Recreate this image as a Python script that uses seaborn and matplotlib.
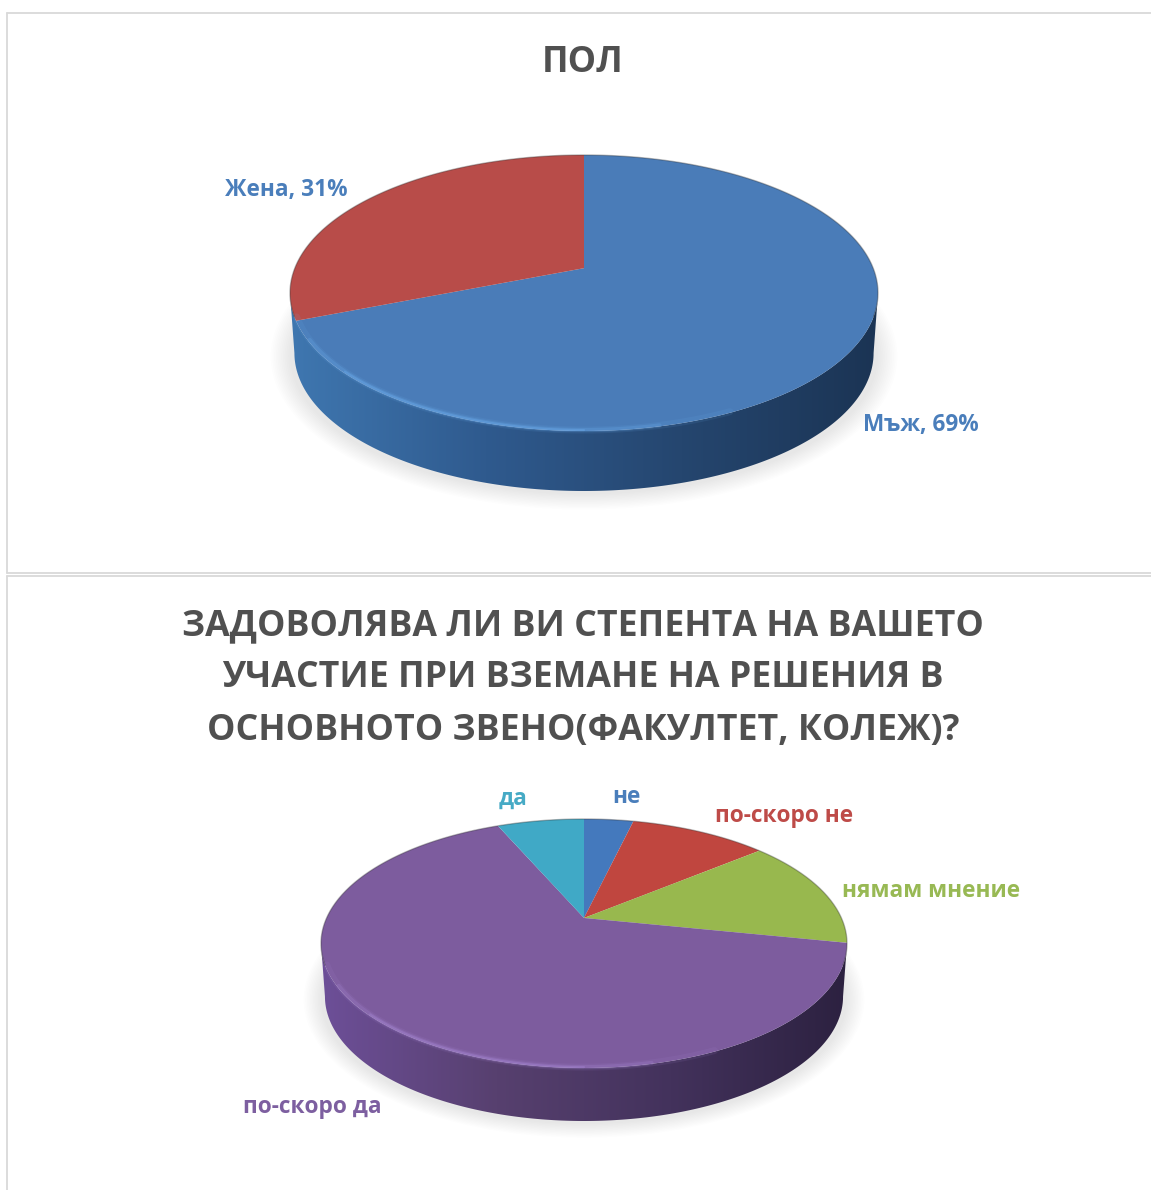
import numpy as np
import matplotlib
matplotlib.use("Agg")
import matplotlib.pyplot as plt
from matplotlib.patches import Ellipse, Polygon
from matplotlib.lines import Line2D
import seaborn as sns

sns.set_theme(style="white")
plt.rcParams["font.family"] = ["Open Sans", "DejaVu Sans"]

W, H = 1151, 1190

# data
gender_labels = ["Мъж", "Жена"]
gender_values = [69, 31]
gender_colors = ["#4a7cb8", "#b84c49"]

opinion_labels = ["не", "по-скоро не", "нямам мнение", "по-скоро да", "да"]
opinion_values = [3.7, 10.3, 14.2, 65.3, 6.5]
opinion_colors = ["#4479bd", "#c0463f", "#98b84e", "#7d5c9e", "#40a9c6"]

title_gender = "ПОЛ"
title_opinion = ["ЗАДОВОЛЯВА ЛИ ВИ СТЕПЕНТА НА ВАШЕТО",
                 "УЧАСТИЕ ПРИ ВЗЕМАНЕ НА РЕШЕНИЯ В",
                 "ОСНОВНОТО ЗВЕНО(ФАКУЛТЕТ, КОЛЕЖ)?"]

TITLE_COLOR = "#505050"
BORDER = "#d9d9d9"


def warp(x, y, a):
    # perspective tilt: keeps the unit circle, moves the pie centre up to (0, a)
    den = 1 + a * y
    return x * np.sqrt(1 - a ** 2) / den, (y + a) / den


def draw_pie(values, colors, cx, cy, rx, ry, a, depth, wall_colors, rim_color, startangle=90):
    d = depth / ry
    ax = fig.add_axes([(cx - 1.15 * rx) / W, 1 - (cy + 1.25 * ry + depth) / H,
                       2.3 * rx / W, (2.3 * ry + depth) / H])
    wedges, _ = ax.pie(values, colors=colors, startangle=startangle, counterclock=False)
    ax.set_aspect("auto")
    ax.axis("off")

    # soft shadow on the page
    for k in range(12):
        ax.add_patch(Ellipse((0, -d - 0.025), 2.0 + 0.012 * k, 2.0 + 0.02 * k,
                             fc="black", ec="none", alpha=0.008, zorder=0.5))

    # side wall with a horizontal gradient
    t = np.radians(np.linspace(180, 360, 200))
    low = np.column_stack([0.985 * np.cos(t), np.sin(t) - d])
    up = np.column_stack([np.cos(t), np.sin(t)])[::-1]
    wall = Polygon(np.vstack([low, up]), transform=ax.transData, fc="none", ec="none")
    ax.add_patch(wall)
    cmap = sns.blend_palette(wall_colors, as_cmap=True)
    im = ax.imshow(np.linspace(0, 1, 256)[None, :], extent=(-1, 1, -1 - d, 0.2),
                   cmap=cmap, aspect="auto", zorder=1)
    im.set_clip_path(wall)
    ax.set_xlim(-1.15, 1.15)
    ax.set_ylim(-1.25 - d, 1.05)

    # top face, from the wedges the pie call computed
    for w in wedges:
        w.set_visible(False)
        th = np.radians(np.linspace(w.theta1, w.theta2, 200))
        xs, ys = warp(np.cos(th), np.sin(th), a)
        ax.add_patch(Polygon(np.column_stack([np.r_[0, xs], np.r_[a, ys]]),
                             fc=w.get_facecolor(), ec="none", zorder=2))

    # bevel: light along the front-left rim, dark along the back rim
    for lo, hi, lw, al in [(190, 300, 5, 0.10), (200, 285, 3, 0.22), (215, 270, 1.5, 0.35)]:
        th = np.radians(np.linspace(lo, hi, 120))
        ax.plot(0.993 * np.cos(th), 0.993 * np.sin(th), color=rim_color, lw=lw, alpha=al,
                solid_capstyle="round", zorder=3)
    th = np.radians(np.linspace(-10, 190, 200))
    ax.plot(np.cos(th), np.sin(th), color="#303030", lw=1.0, alpha=0.35, zorder=3)
    return ax


fig = plt.figure(figsize=(W / 100, H / 100), dpi=100, facecolor="white")

# chart borders
for xs, ys in [((7, 7), (13, 573)), ((7, 1151), (13, 13)), ((7, 1151), (573, 573)),
               ((7, 1151), (576, 576)), ((7, 7), (576, 1190))]:
    fig.add_artist(Line2D([x / W for x in xs], [1 - y / H for y in ys], color=BORDER, lw=1.3))

draw_pie(gender_values, gender_colors, 584, 293, 294, 138, 0.18, 60,
         ["#3f77b0", "#2f5a8e", "#25466f", "#1b3454"], "#6fb0f0")
draw_pie(opinion_values, opinion_colors, 584, 943.5, 263, 124.5, 0.205, 53,
         ["#6d4f98", "#57406f", "#43325c", "#2c2140"], "#a98ad8")

fig.text(583 / W, 1 - 63 / H, title_gender, ha="center", va="center", fontsize=25.7,
         fontweight="bold", color=TITLE_COLOR)
for line, y in zip(title_opinion, [626, 678, 731]):
    fig.text(583 / W, 1 - y / H, line, ha="center", va="center", fontsize=25.7,
             fontweight="bold", color=TITLE_COLOR)

label_font = dict(fontsize=16.3, fontweight="bold", ha="center", va="center")
fig.text(286 / W, 1 - 190 / H, f"{gender_labels[1]}, {gender_values[1]}%", color="#4a7ebb", **label_font)
fig.text(921 / W, 1 - 425 / H, f"{gender_labels[0]}, {gender_values[0]}%", color="#4a7ebb", **label_font)

opinion_pos = [(626, 797), (784, 816), (931, 891), (312, 1107), (513, 799)]
opinion_text_colors = ["#4a7ebb", "#be4b48", "#98b954", "#7d5fa0", "#46aac5"]
for name, (x, y), c in zip(opinion_labels, opinion_pos, opinion_text_colors):
    fig.text(x / W, 1 - y / H, name, color=c, **label_font)

fig.savefig("out.png", dpi=100)
